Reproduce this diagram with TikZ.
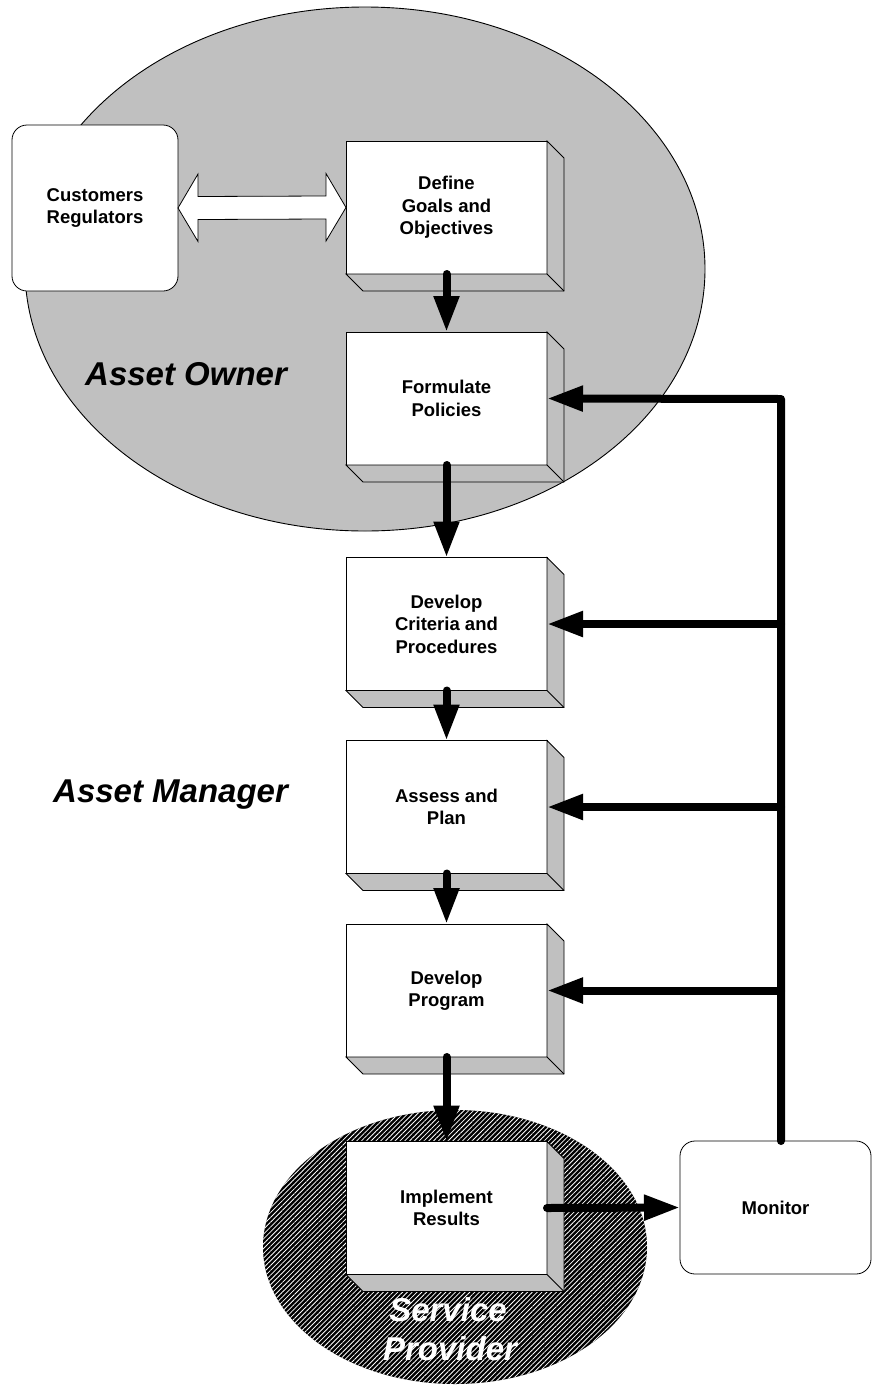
\documentclass[tikz,border=0pt]{standalone}
\usepackage{fontspec}
\setmainfont{Liberation Sans}
\usetikzlibrary{arrows.meta,calc,patterns.meta}
\definecolor{sidegray}{RGB}{192,192,192}
\definecolor{ownergray}{RGB}{192,192,192}
\begin{document}
\begin{tikzpicture}[x=1pt,y=-1pt,
  box/.style={draw=black, line width=0.8pt, fill=white, minimum width=201pt, minimum height=133pt,
    outer sep=0pt, inner sep=0pt, align=center, font=\bfseries\fontsize{18.5}{22.5}\selectfont},
  rbox/.style={draw=black, line width=0.8pt, fill=white, rounded corners=15pt, outer sep=0pt,
    inner sep=0pt, align=center, font=\bfseries\fontsize{18.5}{22.5}\selectfont},
  flow/.style={line width=8pt, line cap=round, line join=round, -{Triangle[length=36pt,width=24pt]}},
  role/.style={font=\bfseries\itshape\fontsize{33}{38}\selectfont, inner sep=0pt},
  side/.style={fill=sidegray, draw=black, line width=0.8pt},
  dbl/.style={fill=white, draw=black, line width=0.8pt, line join=miter}
]
\useasboundingbox (0,0) rectangle (872,1387);
\fill[white] (0,0) rectangle (872,1387);

% regions
\filldraw[fill=ownergray, draw=black, line width=0.9pt] (365,269) ellipse [x radius=340pt, y radius=262pt];
\fill[black] (455,1247) ellipse [x radius=192pt, y radius=137pt];
\fill[pattern={Lines[angle=45,distance=3.4pt,line width=0.8pt]}, pattern color=white]
  (455,1247) ellipse [x radius=192pt, y radius=137pt];

% nodes
\node[rbox, minimum width=166pt, minimum height=166pt] (cust) at (95,208) {Customers\\Regulators};
\node[box] (b1) at (446.5,207.5) {Define\\Goals and\\Objectives};
\node[box] (b2) at (446.5,398.5) {Formulate\\Policies};
\node[box] (b3) at (446.5,624) {Develop\\Criteria and\\Procedures};
\node[box] (b4) at (446.5,807) {Assess and\\Plan};
\node[box] (b5) at (446.5,990.5) {Develop\\Program};
\node[box] (b6) at (446.5,1208) {Implement\\Results};
\node[rbox, minimum width=191pt, minimum height=133pt] (mon) at (775.5,1207.5) {Monitor};

% 3D faces
\foreach \n in {b1,b2,b3,b4,b5,b6}{
  \filldraw[side] (\n.north east) -- ++(17,17) -- ($(\n.south east)+(17,17)$)
     -- ($(\n.south west)+(17,17)$) -- (\n.south west) -- (\n.south east) -- cycle;
  \draw[line width=0.8pt] (\n.south east) -- ++(17,17);
}

% double arrow
\draw[dbl] (cust.east) -- ($(cust.east)+(20,-34)$) -- ($(cust.east)+(20,-11.5)$)
  -- ($(b1.west)+(-20,-11.5)$) -- ($(b1.west)+(-20,-34)$) -- (b1.west)
  -- ($(b1.west)+(-20,33.5)$) -- ($(b1.west)+(-20,11.5)$)
  -- ($(cust.east)+(20,11.5)$) -- ($(cust.east)+(20,33.5)$) -- cycle;

% flow arrows
\draw[flow] (b1.south) -- (b2.north);
\draw[flow] (b2.south) -- (b3.north);
\draw[flow] (b3.south) -- (b4.north);
\draw[flow] (b4.south) -- (b5.north);
\draw[flow] (b5.south) -- (b6.north);

% feedback
\coordinate (vtop) at (781,399);
\draw[flow] (mon.north -| vtop) -- (vtop) -- (b2.east);
\draw[flow] (b3.east -| vtop) -- (b3.east);
\draw[flow] (b4.east -| vtop) -- (b4.east);
\draw[flow] (b5.east -| vtop) -- (b5.east);
\draw[flow] (b6.east) -- (mon.west);

% role labels
\node[role, anchor=base west] (own) at (85,385) {Asset Owner};
\node[role, anchor=base west] (mgr) at (53,802) {Asset Manager};
\node[role, text=white, anchor=base] (sp1) at (448,1321) {Service};
\node[role, text=white, anchor=base] (sp2) at (450,1360) {Provider};
\end{tikzpicture}
\end{document}
